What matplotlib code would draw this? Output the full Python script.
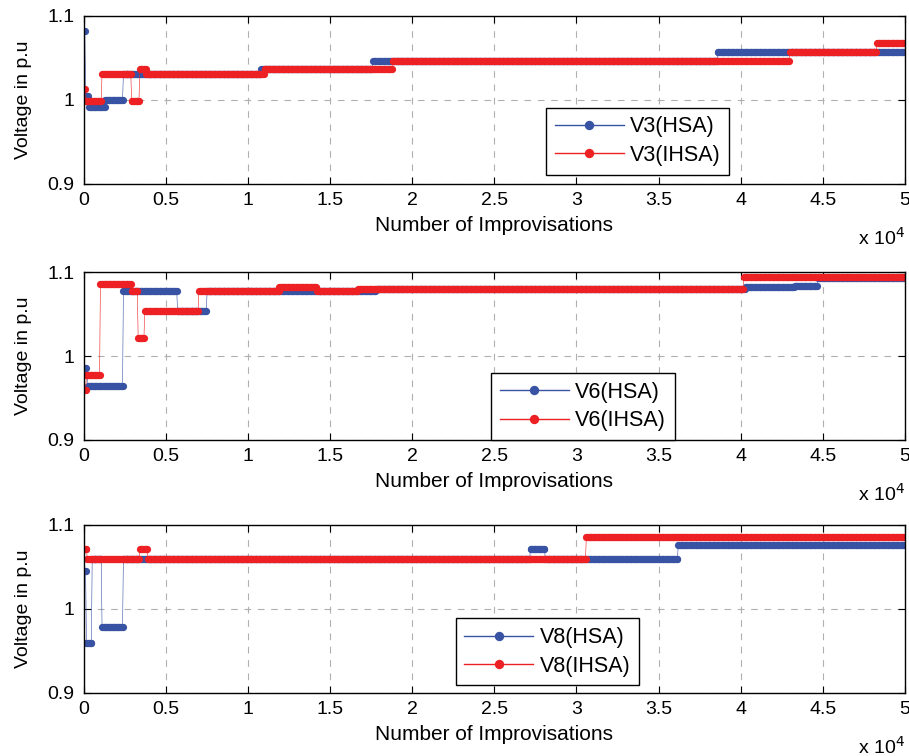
import matplotlib
matplotlib.use('Agg')
import matplotlib.pyplot as plt
from matplotlib.ticker import FuncFormatter, MultipleLocator
import numpy as np

plt.rcParams['font.family'] = ['Liberation Sans', 'DejaVu Sans']

# step data: iteration where each level starts, and the level (p.u.)
v3_hsa_start = [0, 100, 300, 1300, 2400, 10800, 17600, 38600]
v3_hsa_val = [1.082, 1.004, 0.992, 1.000, 1.031, 1.0365, 1.046, 1.057]
v3_ihsa_start = [0, 100, 1100, 2900, 3400, 3800, 11000, 18800, 43000, 48300]
v3_ihsa_val = [1.0125, 0.999, 1.031, 0.999, 1.0365, 1.031, 1.0365, 1.046, 1.057, 1.0675]

v6_hsa_start = [0, 150, 250, 2400, 5700, 7500, 17800, 40300, 43300, 44700]
v6_hsa_val = [0.986, 0.977, 0.964, 1.077, 1.054, 1.077, 1.080, 1.082, 1.083, 1.0925]
v6_ihsa_start = [0, 150, 1000, 2900, 3300, 3700, 7000, 11900, 14200, 16700, 40200]
v6_ihsa_val = [0.960, 0.977, 1.086, 1.077, 1.021, 1.054, 1.077, 1.082, 1.077, 1.080, 1.094]

v8_hsa_start = [0, 150, 500, 1100, 2400, 27200, 28100, 36200]
v8_hsa_val = [1.045, 0.959, 1.060, 0.978, 1.060, 1.071, 1.060, 1.076]
v8_ihsa_start = [0, 200, 3400, 3900, 30600]
v8_ihsa_val = [1.071, 1.060, 1.071, 1.060, 1.086]

n_iter = 50000
it = np.arange(0, n_iter + 1, 50)

def expand(starts, vals):
    idx = np.searchsorted(starts, it, side='right') - 1
    return np.asarray(vals)[idx]

blue = '#3953a4'
red = '#ed2024'

panels = [
    ('V3', v3_hsa_start, v3_hsa_val, v3_ihsa_start, v3_ihsa_val, (0.563, 0.452)),
    ('V6', v6_hsa_start, v6_hsa_val, v6_ihsa_start, v6_ihsa_val, (0.496, 0.399)),
    ('V8', v8_hsa_start, v8_hsa_val, v8_ihsa_start, v8_ihsa_val, (0.453, 0.443)),
]

fig = plt.figure(figsize=(9.09, 7.56), dpi=100)
tops = [0.979, 0.640, 0.3056]
h = 0.222
for (name, hs, hv, ihs, ihv, lpos), top in zip(panels, tops):
    ax = fig.add_axes([0.0924, top - h, 0.903, h])
    ax.plot(it, expand(hs, hv), '-o', color=blue, lw=0.4, ms=5.2, mew=0,
            label=name + '(HSA)')
    ax.plot(it, expand(ihs, ihv), '-o', color=red, lw=0.4, ms=5.2, mew=0,
            label=name + '(IHSA)')
    ax.set_xlim(0, n_iter)
    ax.set_ylim(0.9, 1.1)
    ax.xaxis.set_major_locator(MultipleLocator(5000))
    ax.xaxis.set_major_formatter(FuncFormatter(lambda v, p: '%g' % (v / 1e4)))
    ax.yaxis.set_major_locator(MultipleLocator(0.1))
    ax.yaxis.set_major_formatter(FuncFormatter(lambda v, p: '%g' % round(v, 2)))
    ax.tick_params(direction='in', top=True, right=True, labelsize=14, length=5)
    ax.tick_params(axis='x', pad=6)
    ax.tick_params(axis='y', pad=7)
    ax.grid(True, linestyle=(0, (6, 6)), color='#b0b0b0', lw=0.8)
    for s in ax.spines.values():
        s.set_linewidth(1.0)
    ax.set_xlabel('Number of Improvisations', fontsize=15)
    ax.xaxis.set_label_coords(0.5, -0.19)
    ax.set_ylabel('Voltage in p.u', fontsize=14)
    ax.yaxis.set_label_coords(-0.063, 0.5)
    ax.text(1.0, -0.32, r'x 10$^4$', transform=ax.transAxes, ha='right',
            va='center', fontsize=14)
    leg = ax.legend(loc='upper left', bbox_to_anchor=lpos, borderaxespad=0,
                    fontsize=15.5, fancybox=False, framealpha=1, edgecolor='black',
                    handlelength=3.2, handletextpad=0.3, labelspacing=0.35,
                    markerscale=1.3)
    leg.get_frame().set_linewidth(1.0)
    for l in leg.get_lines():
        l.set_linewidth(1.0)

fig.savefig('out.png', dpi=100)
